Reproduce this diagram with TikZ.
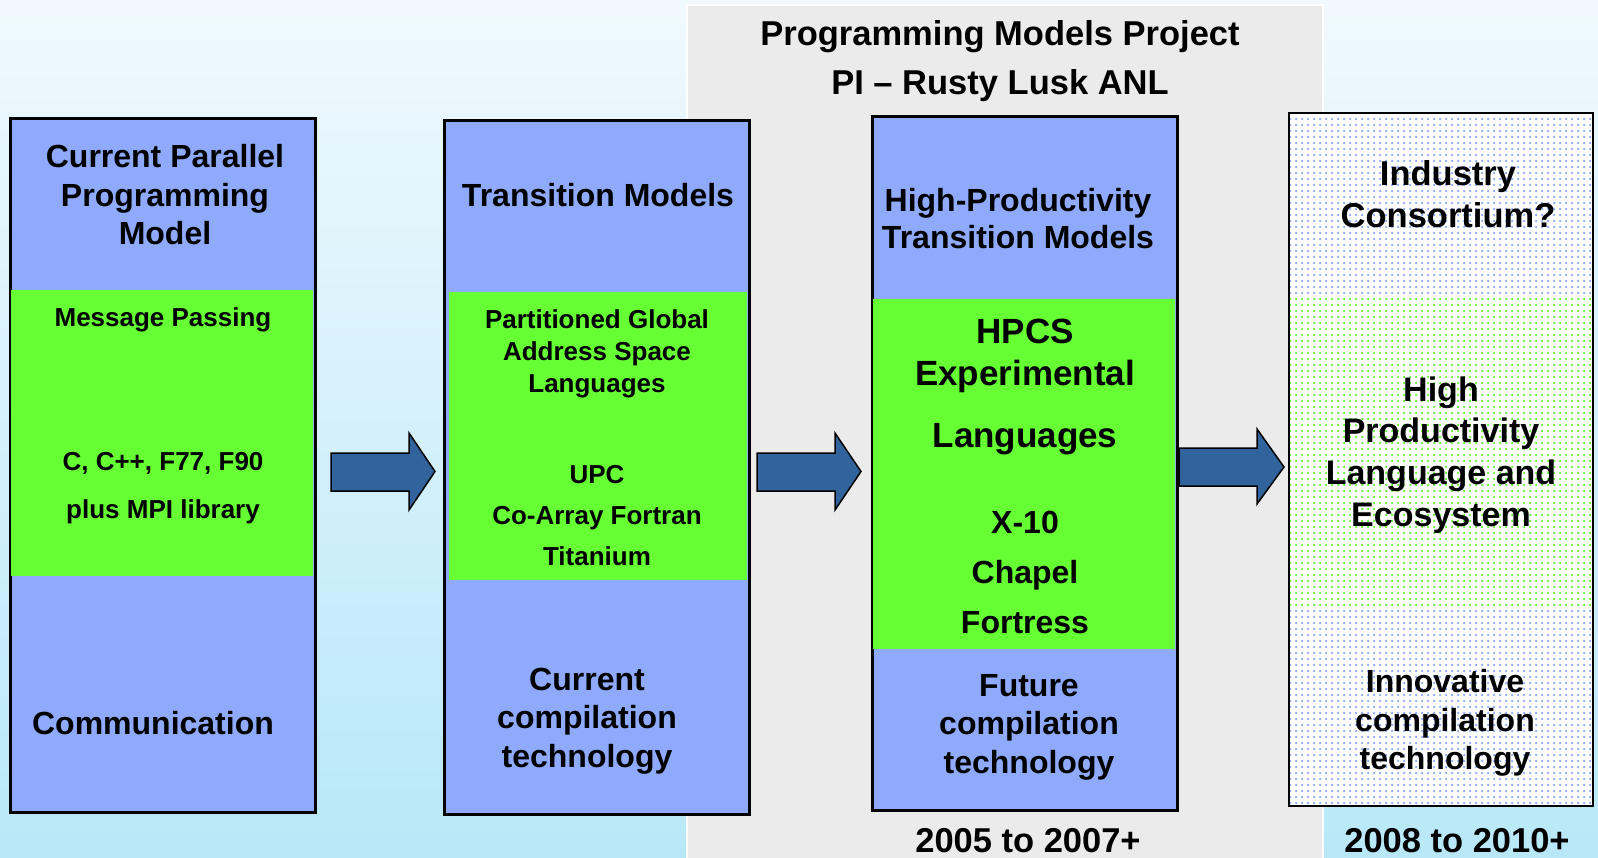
\documentclass[tikz,border=0pt]{standalone}
\usepackage{fontspec}
\setmainfont{Liberation Sans}
\usetikzlibrary{patterns.meta}
\definecolor{bgtop}{HTML}{F0F9FE}
\definecolor{bgbot}{HTML}{B8E8F8}
\definecolor{panel}{HTML}{EBEBEB}
\definecolor{boxblue}{HTML}{8FAAFB}
\definecolor{boxgreen}{HTML}{66FF33}
\definecolor{arrowblue}{HTML}{31649C}
\definecolor{dotblue}{HTML}{8CA6F6}
\definecolor{dotgreen}{HTML}{62F232}
\tikzset{
  colbox/.style={draw=black, line width=2pt, fill=boxblue, inner sep=0pt, anchor=north west, minimum width=304pt},
  greenband/.style={fill=boxgreen},
  blockarrow/.style={fill=arrowblue, draw=black, line width=1.5pt, line join=miter},
  txt/.style={align=center, inner sep=0pt, font=\bfseries\fontsize{32}{38.5}\selectfont},
  txts/.style={align=center, inner sep=0pt, font=\bfseries\fontsize{26}{#1}\selectfont},
  txtl/.style={align=center, inner sep=0pt, font=\bfseries\fontsize{35}{#1}\selectfont},
  dotfill/.style={pattern={Dots[distance=6pt, radius=1.25pt]}, pattern color=#1},
}
\begin{document}
\begin{tikzpicture}[x=1pt,y=-1pt]
\useasboundingbox (0,0) rectangle (1598,857);
\shade[top color=bgtop, bottom color=bgbot] (0,0) rectangle (1598,857);
% gray project panel
\fill[panel, draw=white, line width=1.5pt] (687,5) rectangle (1323,862);
\node[txtl=49, font=\bfseries\fontsize{34.5}{49}\selectfont] (title) at (1000,61) {Programming Models Project\\PI -- Rusty Lusk ANL};

% box 1
\node[colbox, minimum height=693pt] (b1) at (10,118) {};
\fill[greenband] (11,290) rectangle (313,576);
\draw[line width=2pt] (b1.north west) rectangle (b1.south east);
\node[txt] (b1t) at (165,195) {Current Parallel\\Programming\\Model};
\node[txts=48] (b1a) at (163,320) {Message Passing};
\node[txts=48] (b1b) at (163,488) {C, C++, F77, F90\\plus MPI library};
\node[txt] (b1c) at (153,723) {Communication};

% box 2
\node[colbox, minimum height=693pt] (b2) at (444,120) {};
\fill[greenband] (449,292) rectangle (747,580);
\draw[line width=2pt] (b2.north west) rectangle (b2.south east);
\node[txt] (b2t) at (598,195) {Transition Models};
\node[txts=32] (b2a) at (597,354) {Partitioned Global\\Address Space\\Languages};
\node[txts=41] (b2b) at (597,516) {UPC\\Co-Array Fortran\\Titanium};
\node[txt] (b2c) at (587,721) {Current\\compilation\\technology};

% box 3
\node[colbox, minimum height=693pt] (b3) at (872,116) {};
\fill[greenband] (873,299) rectangle (1175,649);
\draw[line width=2pt] (b3.north west) rectangle (b3.south east);
\node[txt, font=\bfseries\fontsize{32}{37}\selectfont] (b3t) at (1018,219) {High-Productivity\\Transition Models};
\node[txtl=42] (b3a) at (1025,356) {HPCS\\Experimental};
\node[txtl=42] (b3b) at (1025,439) {Languages};
\node[txt, font=\bfseries\fontsize{32}{50}\selectfont] (b3c) at (1025,572) {X-10\\Chapel\\Fortress};
\node[txt] (b3d) at (1029,727) {Future\\compilation\\technology};
\node[txt, font=\bfseries\fontsize{34.5}{40}\selectfont, anchor=base] (y1) at (1028,852) {2005 to 2007+};

% box 4
\fill[white] (1288,112) rectangle (1592,805);
\fill[dotfill=dotblue] (1288,112) rectangle (1592,805);
\fill[white] (1289,296) rectangle (1591,606);
\fill[dotfill=dotgreen] (1289,296) rectangle (1591,606);
\node[draw=black, line width=2pt, inner sep=0pt, anchor=north west, minimum width=304pt, minimum height=693pt] (b4) at (1288,112) {};
\node[txt, font=\bfseries\fontsize{34.5}{42}\selectfont] (b4t) at (1448,194) {Industry\\Consortium?};
\node[txt, font=\bfseries\fontsize{34}{41.7}\selectfont] (b4a) at (1441,455) {High\\Productivity\\Language and\\Ecosystem};
\node[txt] (b4b) at (1445,723) {Innovative\\compilation\\technology};
\node[txt, font=\bfseries\fontsize{34.5}{40}\selectfont, anchor=base] (y2) at (1457,852) {2008 to 2010+};

% block arrows
\draw[blockarrow] (331,453) -- (409,453) -- (409,433) -- (435,471.5) -- (409,510) -- (409,491) -- (331,491) -- cycle;
\draw[blockarrow] (757,453) -- (835,453) -- (835,433) -- (861,471.5) -- (835,510) -- (835,491) -- (757,491) -- cycle;
\draw[blockarrow] (1179,448) -- (1257,448) -- (1257,429) -- (1284,467) -- (1257,504) -- (1257,486) -- (1179,486) -- cycle;
\end{tikzpicture}
\end{document}
